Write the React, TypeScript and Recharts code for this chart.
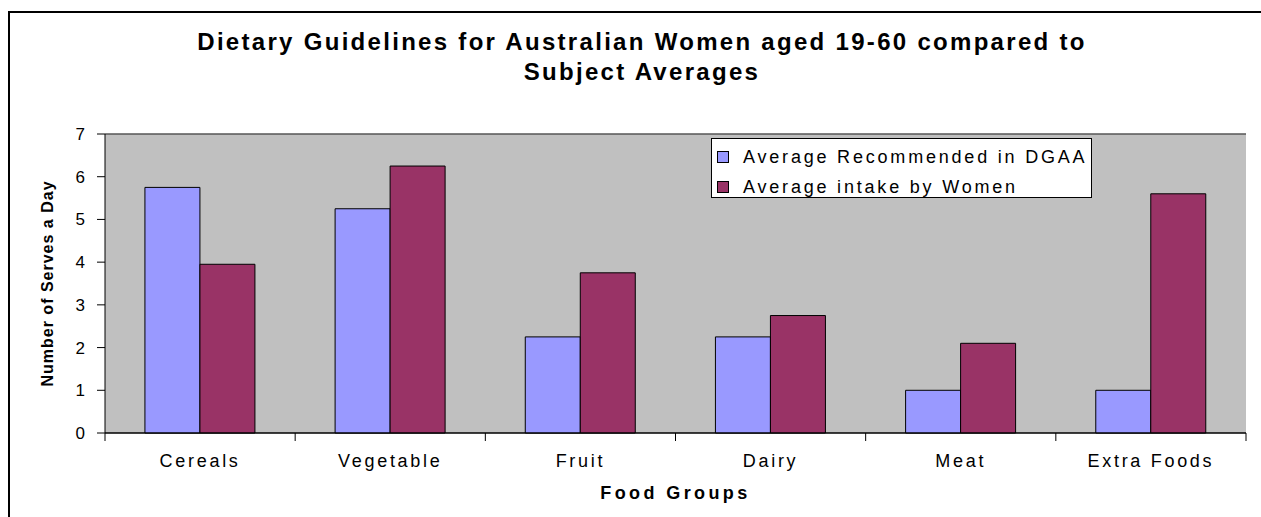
import { Bar, BarChart, CartesianGrid, Label, Legend, ReferenceLine, XAxis, YAxis } from 'recharts';

const categories = ['Cereals', 'Vegetable', 'Fruit', 'Dairy', 'Meat', 'Extra Foods'];
const recommended = [5.75, 5.25, 2.25, 2.25, 1, 1];
const intake = [3.95, 6.25, 3.75, 2.75, 2.1, 5.6];
const yTicks = [0, 1, 2, 3, 4, 5, 6, 7];

const seriesNames = {
  recommended: 'Average Recommended in DGAA',
  intake: 'Average intake by Women'
};

const data = categories.map((name, i) => ({
  name,
  recommended: recommended[i],
  intake: intake[i]
}));

const FONT = '"Liberation Sans", Arial, sans-serif';
const W = 1261;
const H = 517;
const PLOT_LEFT = 105;
const PLOT_TOP = 134;
const PLOT_RIGHT = 1246;
const PLOT_BOTTOM = 433;
const BAND = (PLOT_RIGHT - PLOT_LEFT) / categories.length;

function CategoryTick(props: any) {
  const { x, payload } = props;
  const isLast = payload.value === categories[categories.length - 1];
  return (
    <g>
      <line x1={x - BAND / 2} y1={PLOT_BOTTOM} x2={x - BAND / 2} y2={PLOT_BOTTOM + 8} stroke="#000" />
      {isLast && <line x1={x + BAND / 2} y1={PLOT_BOTTOM} x2={x + BAND / 2} y2={PLOT_BOTTOM + 8} stroke="#000" />}
      <text x={x} y={PLOT_BOTTOM + 34} textAnchor="middle" fontFamily={FONT} fontSize={18} letterSpacing={2.7} fill="#000">
        {payload.value}
      </text>
    </g>
  );
}

function LegendBox(props: any) {
  const { payload } = props;
  return (
    <div
      style={{
        width: 381,
        height: 60,
        border: '1px solid #000',
        background: '#fff',
        fontFamily: FONT,
        fontSize: 18,
        letterSpacing: 2.8,
        color: '#000',
        paddingTop: 3,
        boxSizing: 'border-box',
        textAlign: 'left'
      }}
    >
      {payload.map((entry: any) => (
        <div key={entry.value} style={{ display: 'flex', alignItems: 'center', height: 30 }}>
          <span
            style={{
              display: 'inline-block',
              width: 10,
              height: 10,
              marginLeft: 5,
              marginRight: 14,
              background: entry.color,
              border: '1px solid #000'
            }}
          />
          <span>{seriesNames[entry.dataKey as keyof typeof seriesNames]}</span>
        </div>
      ))}
    </div>
  );
}

export default function App() {
  return (
    <div style={{ position: 'absolute', left: 0, top: 0, width: W, height: H, background: '#fff', overflow: 'hidden' }}>
      <div
        style={{
          position: 'absolute',
          left: 8,
          top: 11,
          width: W,
          height: H,
          borderLeft: '2px solid #000',
          borderTop: '2px solid #000'
        }}
      />
      <div
        style={{
          position: 'absolute',
          left: 142,
          top: 27,
          width: 1000,
          textAlign: 'center',
          fontFamily: FONT,
          fontWeight: 'bold',
          fontSize: 24,
          lineHeight: '30px',
          letterSpacing: 2.3,
          color: '#000'
        }}
      >
        Dietary Guidelines for Australian Women aged 19-60 compared to
        <br />
        Subject Averages
      </div>
      <div style={{ position: 'absolute', left: 0, top: 0 }}>
        <BarChart
          width={W}
          height={H}
          data={data}
          margin={{ top: PLOT_TOP, right: W - PLOT_RIGHT, bottom: 0, left: 0 }}
          barCategoryGap="21%"
          barGap={0}
        >
          <CartesianGrid vertical={false} stroke="#000" fill="#C0C0C0" fillOpacity={1} />
          <XAxis
            dataKey="name"
            interval={0}
            height={H - PLOT_BOTTOM}
            axisLine={{ stroke: '#000' }}
            tickLine={false}
            tick={<CategoryTick />}
          >
            <Label
              content={(p: any) => (
                <text
                  x={p.viewBox.x + p.viewBox.width / 2}
                  y={PLOT_BOTTOM + 66}
                  textAnchor="middle"
                  fontFamily={FONT}
                  fontWeight="bold"
                  fontSize={18}
                  letterSpacing={3.4}
                  fill="#000"
                >
                  Food Groups
                </text>
              )}
            />
          </XAxis>
          <YAxis
            yAxisId="left"
            width={PLOT_LEFT}
            domain={[0, 7]}
            ticks={yTicks}
            interval={0}
            axisLine={{ stroke: '#000' }}
            tickLine={{ stroke: '#000' }}
            tickSize={8}
            tickMargin={12}
            tick={{ fill: '#000', fontFamily: FONT, fontSize: 17 }}
          >
            <Label
              content={(p: any) => {
                const cy = p.viewBox.y + p.viewBox.height / 2;
                return (
                  <text
                    x={47}
                    y={cy}
                    transform={`rotate(-90 47 ${cy})`}
                    textAnchor="middle"
                    dominantBaseline="central"
                    fontFamily={FONT}
                    fontWeight="bold"
                    fontSize={16}
                    letterSpacing={1}
                    fill="#000"
                  >
                    Number of Serves a Day
                  </text>
                );
              }}
            />
          </YAxis>
          <YAxis
            yAxisId="right"
            orientation="right"
            width={0}
            domain={[0, 7]}
            tick={false}
            tickLine={false}
            axisLine={{ stroke: '#808080' }}
          />
          <ReferenceLine yAxisId="left" y={7} stroke="#808080" />
          <Legend
            layout="vertical"
            verticalAlign="middle"
            align="center"
            content={<LegendBox />}
            wrapperStyle={{ position: 'absolute', left: 711, top: 138, width: 383, height: 62 }}
          />
          <Bar yAxisId="left" dataKey="recommended" name={seriesNames.recommended} fill="#9999FF" stroke="#000" strokeWidth={1} isAnimationActive={false} />
          <Bar yAxisId="left" dataKey="intake" name={seriesNames.intake} fill="#993366" stroke="#000" strokeWidth={1} isAnimationActive={false} />
        </BarChart>
      </div>
    </div>
  );
}
